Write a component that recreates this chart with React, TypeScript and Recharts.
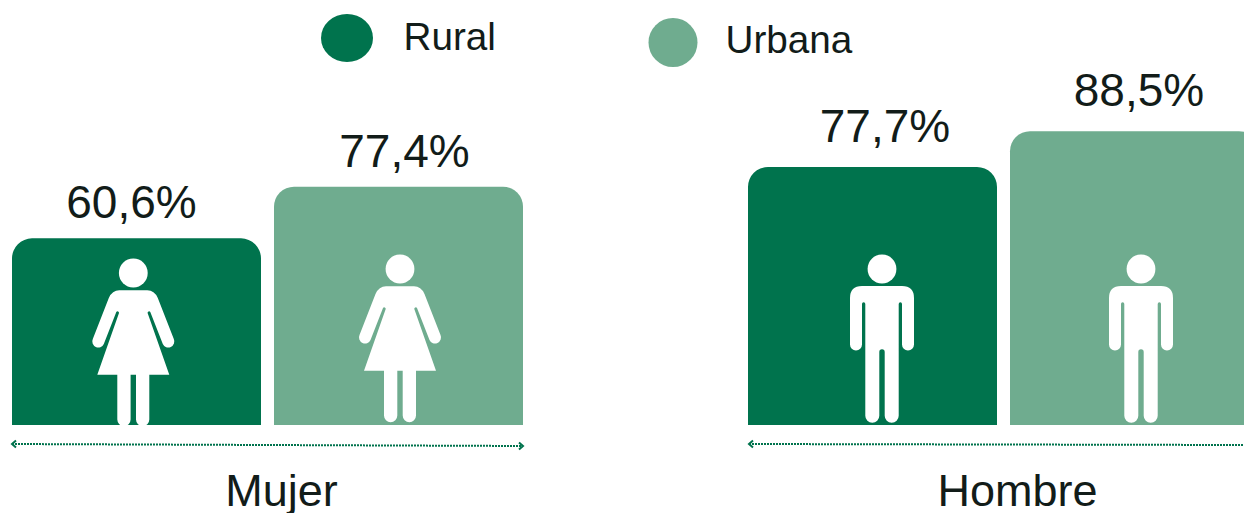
import React from 'react'
import { BarChart, Bar, Cell, XAxis, YAxis, LabelList, Rectangle } from 'recharts'

const areas = ['Rural', 'Urbana']
const mujerValues = [60.6, 77.4]
const hombreValues = [77.7, 88.5]
const areaColors = ['#00734d', '#6fac8f']
const textColor = '#121c19'
const font = '"Liberation Sans", Arial, sans-serif'

const mujerData = areas.map((area, i) => ({ area, value: mujerValues[i] }))
const hombreData = areas.map((area, i) => ({ area, value: hombreValues[i] }))

const womanPath = 'M-14,17.3 H14 Q21,17.3 24.5,25 L40.5,66 A6,6 0 0 1 29.5,71 L17,39 A1.5,1.5 0 0 0 14.3,40 L36,101.7 H-36 L-14.3,40 A1.5,1.5 0 0 0 -17,39 L-29.5,71 A6,6 0 0 1 -40.5,66 L-24.5,25 Q-21,17.3 -14,17.3 Z'
const womanLegs = 'M-16,100 H-2.7 V146.5 A6.65,6.65 0 0 1 -16,146.5 Z M2.7,100 H16 V146.5 A6.65,6.65 0 0 1 2.7,146.5 Z'
const manPath = 'M-20,17 H20 Q32,17 32,29 V75.5 A6,6 0 0 1 20,75.5 V35 A1.65,1.65 0 0 0 16.7,35 V146.7 A7,7 0 0 1 2.7,146.7 V83 A2.7,2.7 0 0 0 -2.7,83 V146.7 A7,7 0 0 1 -16.7,146.7 V35 A1.65,1.65 0 0 0 -20,35 V75.5 A6,6 0 0 1 -32,75.5 V29 Q-32,17 -20,17 Z'

function Person({ x, y, kind }: { x: number; y: number; kind: 'woman' | 'man' }) {
  return (
    <g transform={`translate(${x},${y})`} fill="#fff">
      <circle r={14.4} />
      {kind === 'woman' ? <><path d={womanPath} /><path d={womanLegs} /></> : <path d={manPath} />}
    </g>
  )
}

type PanelProps = {
  data: { area: string; value: number }[]
  title: string
  left: number
  yMax: number
  kind: 'woman' | 'man'
  // icon and label nudges per bar, the source art is not centred
  iconDx: number[]
  iconDy: number[]
  labelDx: number[]
  labelGap: number
}

function Panel({ data, title, left, yMax, kind, iconDx, iconDy, labelDx, labelGap }: PanelProps) {
  const shape = (props: any) => {
    const { x, y, width, height, index, fill } = props
    return (
      <g>
        <Rectangle x={x} y={y} width={width} height={height} fill={fill} radius={[20, 20, 0, 0]} />
        <Person x={x + width / 2 + iconDx[index]} y={y + height - 156 + iconDy[index]} kind={kind} />
      </g>
    )
  }
  const label = (props: any) => {
    const { x, y, width, value, index } = props
    return (
      <text x={x + width / 2 + labelDx[index]} y={y - labelGap} textAnchor="middle" fontFamily={font} fontSize={46} fill={textColor}>
        {String(value).replace('.', ',')}%
      </text>
    )
  }
  return (
    <div style={{ position: 'absolute', left, top: 0 }}>
      <BarChart width={524} height={513} data={data} margin={{ top: 0, right: 0, bottom: 0, left: 0 }} barCategoryGap={0} barSize={249}>
        <XAxis
          dataKey="area"
          height={88}
          axisLine={false}
          tickLine={false}
          tick={false}
          label={{ value: title, position: 'insideBottom', offset: 7, dx: 14.5, fontSize: 45, fontFamily: font, fill: textColor }}
        />
        <YAxis hide domain={[0, yMax]} />
        <Bar dataKey="value" shape={shape} isAnimationActive={false}>
          {data.map((d, i) => <Cell key={d.area} fill={areaColors[i]} />)}
          <LabelList dataKey="value" content={label} />
        </Bar>
      </BarChart>
    </div>
  )
}

function Span({ x1, y1, x2, y2, rightHead }: { x1: number; y1: number; x2: number; y2: number; rightHead: boolean }) {
  const c = areaColors[0]
  return (
    <g stroke={c} fill="none">
      <line x1={x1} y1={y1} x2={x2} y2={y2} strokeWidth={2} strokeDasharray="2 1" />
      <polyline points={`${x1 + 4},${y1 - 3.5} ${x1},${y1} ${x1 + 4},${y1 + 3.5}`} strokeWidth={2} />
      {rightHead && <polyline points={`${x2 - 4},${y2 - 3.5} ${x2},${y2} ${x2 - 4},${y2 + 3.5}`} strokeWidth={2} />}
    </g>
  )
}

export default function App() {
  return (
    <div style={{ position: 'absolute', left: 0, top: 0, width: 1244, height: 513, overflow: 'hidden', background: '#fff' }}>
      <Panel data={mujerData} title="Mujer" left={4.5} yMax={138} kind="woman"
        iconDx={[-3.2, 1.5]} iconDy={[4, 0]} labelDx={[-5, 6]} labelGap={20} />
      <Panel data={hombreData} title="Hombre" left={740.5} yMax={128} kind="man"
        iconDx={[9.5, 6.5]} iconDy={[0, 0]} labelDx={[12.5, 4.5]} labelGap={25} />
      <svg width={1244} height={513} style={{ position: 'absolute', left: 0, top: 0, pointerEvents: 'none' }}>
        <ellipse cx={347} cy={38} rx={26} ry={24} fill={areaColors[0]} />
        <text x={403.5} y={50} fontFamily={font} fontSize={38.7} fill={textColor}>{areas[0]}</text>
        <circle cx={673} cy={42.5} r={24.5} fill={areaColors[1]} />
        <text x={725.5} y={53} fontFamily={font} fontSize={38.7} fill={textColor}>{areas[1]}</text>
        <Span x1={12} y1={444} x2={523} y2={446} rightHead />
        <Span x1={749} y1={444} x2={1244} y2={445} rightHead={false} />
      </svg>
    </div>
  )
}
